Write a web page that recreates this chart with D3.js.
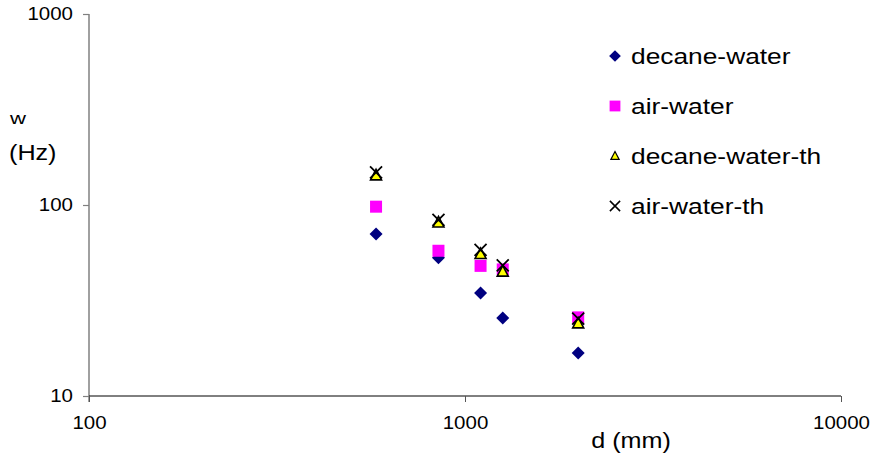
<!DOCTYPE html>
<html>
<head>
<meta charset="utf-8">
<script src="https://cdn.jsdelivr.net/npm/d3@7"></script>
<style>
  html, body { margin: 0; padding: 0; background: #fff; }
  svg { display: block; font-family: "Liberation Sans", Arial, sans-serif; }
</style>
</head>
<body>
<svg id="chart" width="871" height="457"></svg>
<script>
// Drop diameter (x) and frequency (y), log-log
const diameters = [580, 850, 1100, 1260, 2000];
const decaneWater = [70.5, 53, 34.6, 25.6, 16.8];
const airWater = [98, 57.6, 48, 46, 25.8];
const decaneWaterTh = [143, 81, 55.4, 44.8, 24.0];
const airWaterTh = [148, 83.5, 58.2, 48.3, 25.4];
const seriesNames = ["decane-water", "air-water", "decane-water-th", "air-water-th"];
const xTicks = [100, 1000, 10000];
const yTicks = [10, 100, 1000];

const svg = d3.select("#chart");
const x = d3.scaleLog().domain([100, 10000]).range([89, 841]);
const y = d3.scaleLog().domain([10, 1000]).range([396, 14]);

// Widen glyphs horizontally, as the chart's text is rendered slightly stretched
function stretch(sel, k) {
  sel.each(function () {
    const len = this.getComputedTextLength();
    d3.select(this).attr("textLength", len * k).attr("lengthAdjust", "spacingAndGlyphs");
  });
}

// Axes
const yAxis = d3.axisLeft(y).tickValues(yTicks).tickFormat(d3.format("d"))
  .tickSize(6).tickPadding(10);
const gy = svg.append("g").attr("transform", "translate(89,0)").call(yAxis);
gy.select(".domain").attr("stroke", "#808080").attr("stroke-width", 1.5).attr("d", "M0,14V402");
gy.selectAll(".tick line").attr("stroke", "#808080").attr("stroke-width", 1.2);
gy.selectAll(".tick text").attr("font-size", 17.5).attr("fill", "#000").call(stretch, 1.17);

const xAxis = d3.axisBottom(x).tickValues(xTicks).tickFormat(d3.format("d"))
  .tickSize(6).tickPadding(15);
const gx = svg.append("g").attr("transform", "translate(0,396)").call(xAxis);
gx.select(".domain").attr("stroke", "#000").attr("stroke-width", 1).attr("d", "M89,0H841");
gx.selectAll(".tick line").attr("stroke", "#555").attr("stroke-width", 1);
gx.selectAll(".tick text").attr("font-size", 17.5).attr("fill", "#000").call(stretch, 1.17);

// Axis titles
svg.append("text").attr("x", 10).attr("y", 124).attr("font-size", 17).text("w").call(stretch, 1.3);
svg.append("text").attr("x", 9).attr("y", 160).attr("font-size", 21.5).text("(Hz)").call(stretch, 1.17);
svg.append("text").attr("x", 631).attr("y", 448).attr("text-anchor", "middle")
  .attr("font-size", 21.5).text("d (mm)").call(stretch, 1.17);

// Marker drawers
const markers = [
  (g) => g.append("path").attr("d", "M0,-6.5L6.5,0L0,6.5L-6.5,0Z").attr("fill", "#000080"),
  (g) => g.append("rect").attr("x", -6).attr("y", -6).attr("width", 12).attr("height", 12).attr("fill", "#ff00ff"),
  (g) => g.append("path").attr("d", "M0,-6L5.5,4.5L-5.5,4.5Z").attr("fill", "#ffff00")
    .attr("stroke", "#000").attr("stroke-width", 1.6).attr("stroke-linejoin", "miter"),
  (g) => g.append("path").attr("d", "M-6,-6L6,6M6,-6L-6,6").attr("stroke", "#000").attr("stroke-width", 1.8)
];

const allSeries = [decaneWater, airWater, decaneWaterTh, airWaterTh];
allSeries.forEach((vals, i) => {
  const g = svg.append("g").attr("class", "series");
  vals.forEach((v, j) => {
    const m = g.append("g").attr("transform", `translate(${x(diameters[j])},${y(v)})`);
    markers[i](m);
  });
});

// Legend
const legend = svg.append("g").attr("transform", "translate(615,56)");
seriesNames.forEach((name, i) => {
  const row = legend.append("g").attr("transform", `translate(0,${i * 50})`);
  const m = row.append("g").attr("transform", i === 2 ? "scale(0.75)" : (i === 3 ? "scale(0.85)" : "scale(0.9)"));
  markers[i](m);
  row.append("text").attr("x", 16).attr("y", 8).attr("font-size", 22.5).text(name).call(stretch, 1.17);
});
</script>
</body>
</html>
